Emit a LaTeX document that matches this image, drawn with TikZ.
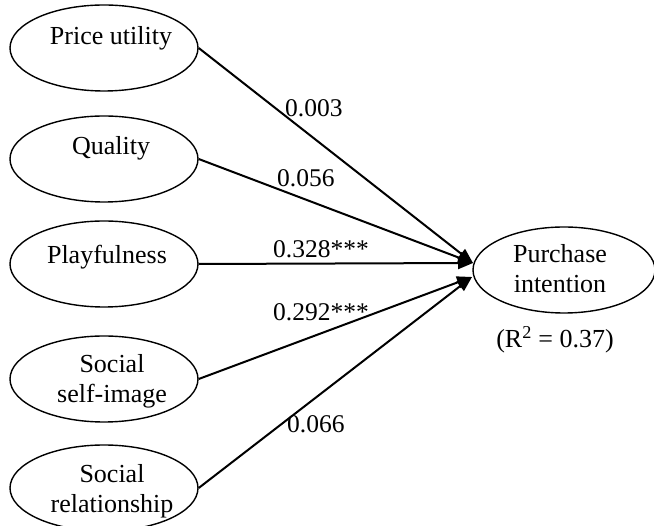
\documentclass[tikz,border=0pt]{standalone}
\usepackage{fontspec}
\setmainfont{Liberation Serif}
\usetikzlibrary{shapes.geometric,arrows.meta}
\begin{document}
\begin{tikzpicture}[x=1pt,y=-1pt,
  construct/.style={draw,line width=1.4pt,ellipse,minimum width=188pt,minimum height=86pt,inner sep=0pt},
  caption/.style={font=\fontsize{26}{30}\selectfont,align=center,inner sep=0pt,anchor=base},
  coef/.style={font=\fontsize{25.5}{30}\selectfont,inner sep=0pt,anchor=base west},
  effect/.style={line width=2pt,-{Triangle[length=15pt,width=12pt]}}]
\useasboundingbox (0,0) rectangle (654,526);

% exogenous constructs (two-line captions are anchored at their last baseline)
\node[construct] (pu) at (104,48) {};
\node[caption] (pu-t) at (111,45) {Price utility};
\node[construct] (qu) at (104,159) {};
\node[caption] (qu-t) at (111,155) {Quality};
\node[construct] (pl) at (104,264) {};
\node[caption] (pl-t) at (107,264) {Playfulness};
\node[construct] (si) at (104,379) {};
\node[caption] (si-t) at (112,403) {Social\\self-image};
\node[construct] (sr) at (104,488) {};
\node[caption] (sr-t) at (112,513) {Social\\relationship};

% endogenous construct
\node[construct,minimum width=182pt] (pi) at (564,270) {};
\node[caption] (pi-t) at (560,293) {Purchase\\intention};
\node[caption] (r2) at (555,348) {(R\textsuperscript{2} = 0.37)};

% arrow tips meeting the outcome
\coordinate (tipA) at (473,263);
\coordinate (tipB) at (472,277);

% structural paths
\draw[effect] (pu.east) -- (tipA);
\draw[effect] (qu.east) -- (tipA);
\draw[effect] (pl.east) -- (tipA);
\draw[effect] (si.east) -- (tipB);
\draw[effect] (sr.east) -- (tipB);

% path coefficients
\node[coef] (c1) at (285,117) {0.003};
\node[coef] (c2) at (277,187) {0.056};
\node[coef] (c3) at (273,258) {0.328***};
\node[coef] (c4) at (273,321) {0.292***};
\node[coef] (c5) at (287,433) {0.066};
\end{tikzpicture}
\end{document}
